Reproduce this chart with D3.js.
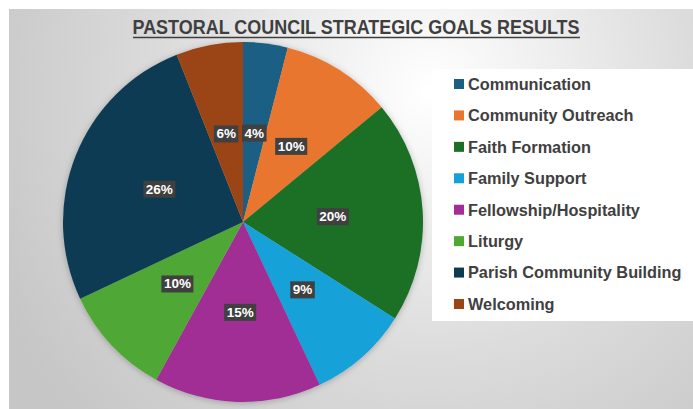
<!DOCTYPE html>
<html>
<head>
<meta charset="utf-8">
<script src="https://cdn.jsdelivr.net/npm/d3@7"></script>
<style>
  body { margin: 0; background: #fff; }
  svg { display: block; }
</style>
</head>
<body>
<svg id="chart" width="693" height="409"></svg>
<script>
// chart data
const categories = ["Communication", "Community Outreach", "Faith Formation", "Family Support",
  "Fellowship/Hospitality", "Liturgy", "Parish Community Building", "Welcoming"];
const values = [4, 10, 20, 9, 15, 10, 26, 6];
const sliceColors = ["#1b5e84", "#e8762f", "#1d6f26", "#14a1d9", "#a12d95", "#50a834", "#0e3a52", "#9b4514"];
const title = "PASTORAL COUNCIL STRATEGIC GOALS RESULTS";

const svg = d3.select("#chart");
const W = 693, H = 409;

// background gradient
const defs = svg.append("defs");
const grad = defs.append("radialGradient")
  .attr("id", "bg")
  .attr("gradientUnits", "userSpaceOnUse")
  .attr("cx", 430).attr("cy", 90).attr("r", 480);
grad.append("stop").attr("offset", "0%").attr("stop-color", "#ffffff");
grad.append("stop").attr("offset", "55%").attr("stop-color", "#dcdcdc");
grad.append("stop").attr("offset", "100%").attr("stop-color", "#c6c6c6");

const shadow = defs.append("filter").attr("id", "shadow")
  .attr("x", "-10%").attr("y", "-10%").attr("width", "120%").attr("height", "120%");
shadow.append("feDropShadow")
  .attr("dx", 0).attr("dy", 1).attr("stdDeviation", 3)
  .attr("flood-color", "#000").attr("flood-opacity", 0.25);

svg.append("rect")
  .attr("x", 9).attr("y", 9).attr("width", W - 9).attr("height", H - 9)
  .attr("fill", "url(#bg)");

// title
svg.append("text")
  .attr("x", 356).attr("y", 34)
  .attr("text-anchor", "middle")
  .attr("font-family", "'Liberation Sans Narrow', 'Arial Narrow', 'Liberation Sans', sans-serif")
  .attr("font-weight", "bold")
  .attr("font-size", 19.5)
  .attr("fill", "#3f3f3f")
  .attr("textLength", 447)
  .attr("lengthAdjust", "spacingAndGlyphs")
  .text(title);
svg.append("line")
  .attr("x1", 133).attr("x2", 580).attr("y1", 37.5).attr("y2", 37.5)
  .attr("stroke", "#3f3f3f").attr("stroke-width", 1.3);

// pie
const cx = 243, cy = 222, R = 180;
const color = d3.scaleOrdinal().domain(categories).range(sliceColors);
const pie = d3.pie().sort(null).value(d => d.value);
const arcs = pie(categories.map((c, i) => ({ name: c, value: values[i] })));
const arc = d3.arc().innerRadius(0).outerRadius(R);
const total = d3.sum(values);

const g = svg.append("g").attr("transform", `translate(${cx},${cy})`);
g.append("g").attr("filter", "url(#shadow)")
  .selectAll("path")
  .data(arcs)
  .join("path")
  .attr("d", arc)
  .attr("fill", d => color(d.data.name));

const labels = g.selectAll("g.lbl")
  .data(arcs)
  .join("g")
  .attr("class", "lbl")
  .attr("transform", d => `translate(${arc.centroid(d)})`);

labels.each(function(d) {
  const lg = d3.select(this);
  const t = lg.append("text")
    .attr("text-anchor", "middle")
    .attr("dy", "0.36em")
    .attr("font-family", "'Liberation Sans', Arial, sans-serif")
    .attr("font-weight", "bold")
    .attr("font-size", 13.5)
    .attr("fill", "#ffffff")
    .text(d3.format(".0%")(d.data.value / total));
  const bb = t.node().getBBox();
  lg.insert("rect", "text")
    .attr("x", bb.x - 2.5).attr("y", bb.y - 1)
    .attr("width", bb.width + 5).attr("height", bb.height + 2)
    .attr("fill", "#404040");
});

// legend
svg.append("rect")
  .attr("x", 432).attr("y", 69).attr("width", W - 432).attr("height", 252)
  .attr("fill", "#ffffff");

const legendY = d3.scalePoint().domain(categories).range([84, 304]);
const leg = svg.selectAll("g.leg")
  .data(categories)
  .join("g")
  .attr("class", "leg")
  .attr("transform", d => `translate(454,${legendY(d)})`);
leg.append("rect")
  .attr("x", 0).attr("y", -5).attr("width", 10).attr("height", 10)
  .attr("fill", d => color(d));
leg.append("text")
  .attr("x", 14).attr("dy", "0.36em")
  .attr("font-family", "'Liberation Sans', Arial, sans-serif")
  .attr("font-weight", "bold")
  .attr("font-size", 16.3)
  .attr("fill", "#404040")
  .text(d => d);
</script>
</body>
</html>
